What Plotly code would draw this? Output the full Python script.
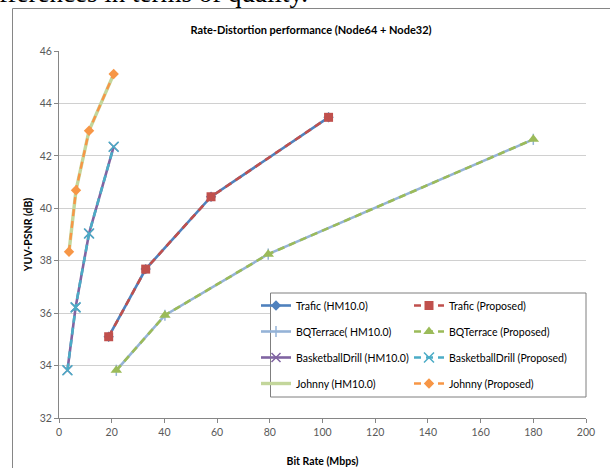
import plotly.graph_objects as go

# ---- data ----
trafic_rate_hm = [18.85, 32.9, 57.7, 102.3]
trafic_psnr_hm = [35.10, 37.68, 40.44, 43.47]
trafic_rate_prop = [18.85, 32.9, 57.7, 102.3]
trafic_psnr_prop = [35.10, 37.68, 40.44, 43.47]

bq_rate_hm = [21.75, 40.2, 79.4, 180.0]
bq_psnr_hm = [33.82, 35.92, 38.25, 42.63]
bq_rate_prop = [21.75, 40.2, 79.4, 180.0]
bq_psnr_prop = [33.82, 35.92, 38.25, 42.63]

bd_rate_hm = [3.2, 6.3, 11.4, 20.75]
bd_psnr_hm = [33.82, 36.22, 39.04, 42.35]
bd_rate_prop = [3.2, 6.3, 11.4, 20.75]
bd_psnr_prop = [33.82, 36.22, 39.04, 42.35]

johnny_rate_hm = [3.8, 6.45, 11.4, 20.75]
johnny_psnr_hm = [38.34, 40.69, 42.96, 45.12]
johnny_rate_prop = [3.8, 6.45, 11.4, 20.75]
johnny_psnr_prop = [38.34, 40.69, 42.96, 45.12]

x_ticks = [0, 20, 40, 60, 80, 100, 120, 140, 160, 180, 200]
y_ticks = [32, 34, 36, 38, 40, 42, 44, 46]

FONT = "Lato, 'Open Sans', sans-serif"
DASH = "7px,5px"

fig = go.Figure()

def add(name, x, y, color, dash, marker, legend, group, width=2.6):
    fig.add_trace(go.Scatter(
        x=x, y=y, name=name, mode="lines+markers" if marker else "lines",
        line=dict(color=color, width=width, dash=dash),
        marker=marker, legend=legend, legendgroup=group,
    ))

add("Trafic (HM10.0)", trafic_rate_hm, trafic_psnr_hm, "#4F81BD", "solid",
    dict(symbol="diamond", size=8, color="#4F81BD"), "legend", "a1")
add("BQTerrace( HM10.0)", bq_rate_hm, bq_psnr_hm, "#95B3D7", "solid",
    dict(symbol="line-ns", size=8, color="#95B3D7", line=dict(color="#95B3D7", width=1.5)), "legend", "a2")
add("BasketballDrill (HM10.0)", bd_rate_hm, bd_psnr_hm, "#8064A2", "solid",
    dict(symbol="x-thin", size=9, color="#8064A2", line=dict(color="#8064A2", width=1.5)), "legend", "a3")
add("Johnny (HM10.0)", johnny_rate_hm, johnny_psnr_hm, "#C3D69B", "solid", None, "legend", "a4", width=3.4)

add("Trafic (Proposed)", trafic_rate_prop, trafic_psnr_prop, "#C0504D", DASH,
    dict(symbol="square", size=9, color="#C0504D"), "legend2", "b1")
add("BQTerrace (Proposed)", bq_rate_prop, bq_psnr_prop, "#9BBB59", DASH,
    dict(symbol="triangle-up", size=10, color="#9BBB59"), "legend2", "b2")
add("BasketballDrill (Proposed)", bd_rate_prop, bd_psnr_prop, "#4BACC6", DASH,
    dict(symbol="x-thin", size=10, color="#4BACC6", line=dict(color="#4BACC6", width=1.5)), "legend2", "b3")
add("Johnny (Proposed)", johnny_rate_prop, johnny_psnr_prop, "#F79646", DASH,
    dict(symbol="diamond", size=8, color="#F79646"), "legend2", "b4", width=2.4)

# plot area px: x 59..586, y 51..418
L, R, T, B = 59, 24, 51, 50
W, H = 610 - L - R, 468 - T - B
def px(xp):
    return (xp - L) / W
def py(yp):
    return (468 - B - yp) / H

axis_common = dict(
    showline=True, linecolor="#868686", linewidth=1,
    ticks="outside", ticklen=4, tickcolor="#868686",
    tickfont=dict(family=FONT, size=10.5, color="#595959"),
    zeroline=False, automargin=False,
)

legend_common = dict(
    xanchor="left", yanchor="top", bgcolor="rgba(0,0,0,0)", borderwidth=0,
    traceorder="grouped", tracegroupgap=7, itemwidth=30,
    font=dict(family=FONT, size=10.5, color="#000000"),
)

fig.update_layout(
    width=610, height=468,
    margin=dict(l=L, r=R, t=T, b=B, autoexpand=False),
    paper_bgcolor="white", plot_bgcolor="white",
    font=dict(family=FONT, color="#000000"),
    title=dict(text="<b>Rate-Distortion performance (Node64 + Node32)</b>",
               x=311 / 610, xanchor="center", xref="container",
               y=(468 - 30) / 468, yanchor="middle", automargin=False,
               font=dict(family=FONT, size=11, color="#000000")),
    xaxis=dict(range=[0, 200], tickvals=x_ticks, showgrid=False,
               title=dict(text="<b>Bit Rate (Mbps)</b>", font=dict(family=FONT, size=10.5), standoff=21),
               **axis_common),
    yaxis=dict(range=[32, 46], tickvals=y_ticks, showgrid=True, gridcolor="#D0D0D0", gridwidth=1,
               title=dict(text="<b>YUV-PSNR (dB)</b>", font=dict(family=FONT, size=10.5), standoff=5),
               **axis_common),
    legend=dict(x=px(256), y=py(291), **legend_common),
    legend2=dict(x=px(409), y=py(291), **legend_common),
    shapes=[
        # legend box
        dict(type="rect", xref="paper", yref="paper", x0=px(270.5), x1=px(586), y0=py(397), y1=py(293),
             fillcolor="white", line=dict(color="#7F7F7F", width=1), layer="above"),
        # chart frame (top and left edges visible)
        dict(type="line", xref="paper", yref="paper", x0=px(12.5), x1=px(640), y0=py(8.5), y1=py(8.5),
             line=dict(color="#868686", width=1)),
        dict(type="line", xref="paper", yref="paper", x0=px(12.5), x1=px(12.5), y0=py(8.5), y1=py(500),
             line=dict(color="#868686", width=1)),
    ],
    annotations=[
        dict(text="fferences in terms of quality.", xref="paper", yref="paper",
             x=px(-3), y=py(10), xanchor="left", yanchor="bottom", showarrow=False,
             font=dict(family="Liberation Serif, serif", size=27, color="#000000")),
    ],
)

fig.write_html("out.html", config={"displayModeBar": False},
               post_script="document.body.style.margin='0';document.body.style.overflow='hidden';")
